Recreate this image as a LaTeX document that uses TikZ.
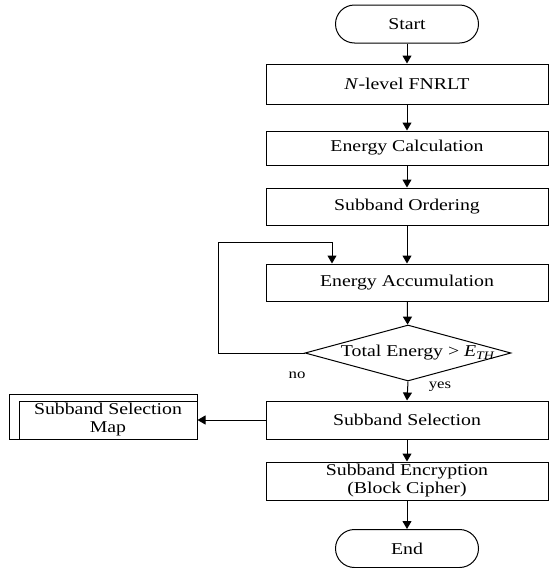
\documentclass[tikz,border=0pt]{standalone}
\usepackage{fontspec}
\setmainfont{Liberation Serif}[FakeStretch=1.2]
\usetikzlibrary{arrows.meta,shapes.geometric}
\begin{document}
\begin{tikzpicture}[x=1pt,y=-1pt,
  every node/.style={font=\fontsize{16.5}{18}\selectfont},
  box/.style={draw, line width=1pt, minimum width=282pt, inner sep=0pt, align=center},
  term/.style={draw, line width=1pt, minimum width=143pt, minimum height=38pt, rounded corners=19pt, inner sep=0pt},
  dia/.style={draw, line width=1pt, diamond, minimum width=206pt, minimum height=56pt, inner sep=0pt},
  arr/.style={line width=1pt, -{Triangle[length=8pt,width=9pt]}},
  small/.style={font=\fontsize{14}{15}\selectfont, inner sep=0pt}
]
\useasboundingbox (0,0) rectangle (550,568);
\node[term] (start) at (407,24) {Start};
\node[box, minimum height=40pt] (b1) at (407,84) {\textit{N}-level FNRLT};
\node[box, minimum height=34pt] (b2) at (407,148) {Energy Calculation};
\node[box, minimum height=37pt] (b3) at (407,206.5) {Subband Ordering};
\node[box, minimum height=37pt] (acc) at (407,282.5) {Energy Accumulation};
\node[dia] (dec) at (408,353) {};
\node[inner sep=0pt] (dect) at (418,353) {Total Energy > \textit{E}\textsubscript{\textit{TH}}};
\node[box, minimum height=38pt] (sel) at (407,420) {Subband Selection};
\node[box, minimum height=38pt, align=center] (enc) at (407,481) {Subband Encryption\\(Block Cipher)};
\node[term] (end) at (407,548.5) {End};
\node[draw, line width=1pt, minimum width=178pt, minimum height=38pt, inner sep=0pt, align=center] (map) at (108,420) {Subband Selection\\Map};
\draw[line width=1pt] ([xshift=-9pt]map.south west) rectangle ([yshift=6pt]map.north east);
\node[small] (no) at (297,375) {no};
\node[small] (yes) at (440,387) {yes};
\coordinate (lc) at (218,242);
\coordinate (lt) at ([xshift=-75pt]acc.north);
\draw[arr] (start) -- (b1);
\draw[arr] (b1) -- (b2);
\draw[arr] (b2) -- (b3);
\draw[arr] (b3) -- (acc);
\draw[arr] (acc) -- (dec);
\draw[arr] (dec.south) -- (sel.north);
\draw[arr] (sel) -- (enc);
\draw[arr] (enc) -- (end);
\draw[arr] (sel.west) -- (map.east);
\draw[arr] (dec.west) -| (lc) -| (lt);
\end{tikzpicture}
\end{document}
